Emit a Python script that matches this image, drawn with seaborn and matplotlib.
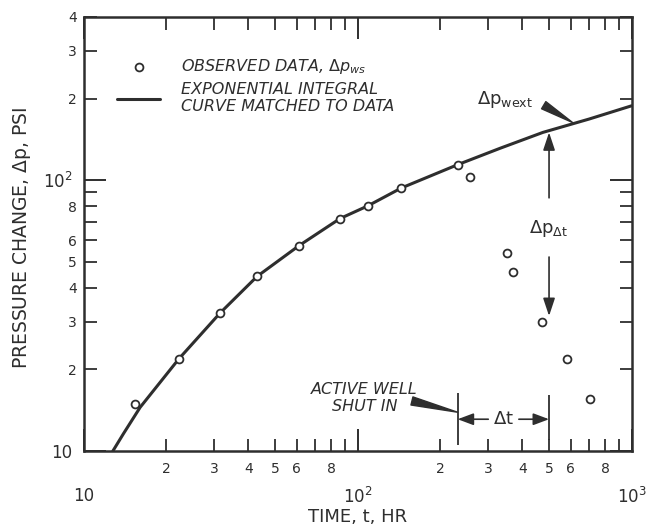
import matplotlib
matplotlib.use("Agg")
import matplotlib.pyplot as plt
import seaborn as sns
import pandas as pd
from matplotlib.ticker import FixedLocator, FixedFormatter

# ---- data ----
t_obs = [15.4, 22.3, 31.5, 43.0, 61.2, 86.3, 109, 144.5, 232, 258, 352, 368, 471, 583, 704]
dp_obs = [14.9, 21.9, 32.3, 44.1, 57.3, 72.1, 80.3, 93.5, 114, 103, 53.7, 45.9, 29.9, 21.9, 15.5]

t_curve = [12.8, 14.0, 16.1, 22.3, 31.5, 43.0, 61.2, 86.3, 109, 144.5, 232, 331, 475, 700, 1000]
dp_curve = [10.0, 11.6, 14.5, 21.9, 32.3, 44.1, 57.3, 72.1, 80.3, 93.5, 114, 131, 150, 168, 188]

x_major = [10, 100, 1000]
x_major_labels = ["10", "$10^2$", "$10^3$"]
x_minor = [20, 30, 40, 50, 60, 70, 80, 90, 200, 300, 400, 500, 600, 700, 800, 900]
x_minor_labels = ["2", "3", "4", "5", "6", "", "8", "", "2", "3", "4", "5", "6", "", "8", ""]
y_major = [10, 100]
y_major_labels = ["10", "$10^2$"]
y_minor = [20, 30, 40, 50, 60, 70, 80, 90, 200, 300, 400]
y_minor_labels = ["2", "3", "4", "5", "6", "", "8", "", "2", "3", "4"]

obs = pd.DataFrame({"t": t_obs, "dp": dp_obs})
curve = pd.DataFrame({"t": t_curve, "dp": dp_curve})

sns.set_theme(style="ticks")
plt.rcParams["font.family"] = ["DejaVu Sans"]
plt.rcParams["mathtext.fontset"] = "dejavusans"

ink = "#2e2e2e"
fig = plt.figure(figsize=(6.56, 5.26), dpi=100)
ax = fig.add_axes([0.1273, 0.1426, 0.8354, 0.8251])

sns.lineplot(data=curve, x="t", y="dp", ax=ax, color=ink, lw=2.2, sort=False,
             estimator=None, label="EXPONENTIAL INTEGRAL\nCURVE MATCHED TO DATA")
sns.scatterplot(data=obs, x="t", y="dp", ax=ax, marker="o", s=32, color="white",
                edgecolor=ink, linewidth=1.3, zorder=3,
                label="OBSERVED DATA, $\\Delta p_{ws}$")

ax.set_xscale("log")
ax.set_yscale("log")
ax.set_xlim(10, 1000)
ax.set_ylim(10, 400)

for s in ax.spines.values():
    s.set_visible(True)
    s.set_linewidth(1.8)
    s.set_color(ink)

ax.xaxis.set_major_locator(FixedLocator(x_major))
ax.xaxis.set_major_formatter(FixedFormatter(x_major_labels))
ax.xaxis.set_minor_locator(FixedLocator(x_minor))
ax.xaxis.set_minor_formatter(FixedFormatter(x_minor_labels))
ax.yaxis.set_major_locator(FixedLocator(y_major))
ax.yaxis.set_major_formatter(FixedFormatter(y_major_labels))
ax.yaxis.set_minor_locator(FixedLocator(y_minor))
ax.yaxis.set_minor_formatter(FixedFormatter(y_minor_labels))

ax.tick_params(which="both", direction="in", top=True, right=True, color=ink,
               labelcolor=ink)
ax.tick_params(which="major", length=16, width=1.4)
ax.tick_params(which="minor", length=9, width=1.3)
ax.tick_params(axis="x", which="major", pad=26, labelsize=12)
ax.tick_params(axis="x", which="minor", pad=8, labelsize=10)
ax.tick_params(axis="y", which="major", pad=8, labelsize=12)
ax.tick_params(axis="y", which="minor", pad=5, labelsize=10)

ax.set_xlabel("TIME, t, HR", fontsize=13, color=ink)
ax.set_ylabel("PRESSURE CHANGE, $\\Delta$p, PSI", fontsize=13.5, color=ink)
ax.xaxis.set_label_coords(0.5, -0.152)
ax.xaxis.label.set_va("center")
ax.yaxis.set_label_coords(-0.112, 0.49)
ax.yaxis.label.set_va("center")

# legend
h, l = ax.get_legend_handles_labels()
leg = ax.legend([h[1], h[0]], [l[1], l[0]], loc="upper left",
                bbox_to_anchor=(0.035, 0.94), frameon=False,
                prop={"style": "italic", "size": 11.5, "weight": "medium"},
                handlelength=2.7, handletextpad=1.3, labelspacing=0.35,
                labelcolor=ink)

wedge = dict(arrowstyle="wedge,tail_width=0.5,shrink_factor=0.5",
             color=ink, shrinkA=0, shrinkB=0)

# annotations
ax.text(345, 198, "$\\Delta\\mathrm{p}_{\\mathrm{wext}}$", fontsize=13, color=ink,
        ha="center", va="center")
ax.annotate("", xy=(610, 163), xytext=(478, 189), arrowprops=wedge)

ax.text(500, 66, "$\\Delta\\mathrm{p}_{\\Delta\\mathrm{t}}$", fontsize=13, color=ink,
        ha="center", va="center")
ax.annotate("", xy=(500, 150), xytext=(500, 86),
            arrowprops=dict(arrowstyle="-|>,head_length=0.9,head_width=0.3",
                            color=ink, lw=1.2, shrinkA=0, shrinkB=0))
ax.annotate("", xy=(500, 31.5), xytext=(500, 52),
            arrowprops=dict(arrowstyle="-|>,head_length=0.9,head_width=0.3",
                            color=ink, lw=1.2, shrinkA=0, shrinkB=0))

ax.text(106, 15.7, "ACTIVE WELL\nSHUT IN", fontsize=11.5, style="italic", color=ink,
        ha="center", va="center", linespacing=1.1, weight="medium")
ax.annotate("", xy=(232, 13.9), xytext=(158, 15.3), arrowprops=wedge)
ax.vlines(232, 10.5, 16.4, color=ink, lw=1.3)
ax.vlines(500, 11.0, 16.1, color=ink, lw=1.3)
ax.text(340, 13.1, "$\\Delta$t", fontsize=13, color=ink, ha="center", va="center")
ax.annotate("", xy=(232, 13.1), xytext=(300, 13.1),
            arrowprops=dict(arrowstyle="-|>,head_length=0.8,head_width=0.3",
                            color=ink, lw=1.2, shrinkA=0, shrinkB=0))
ax.annotate("", xy=(500, 13.1), xytext=(388, 13.1),
            arrowprops=dict(arrowstyle="-|>,head_length=0.8,head_width=0.3",
                            color=ink, lw=1.2, shrinkA=0, shrinkB=0))

fig.savefig("out.png", dpi=100, facecolor="white")
